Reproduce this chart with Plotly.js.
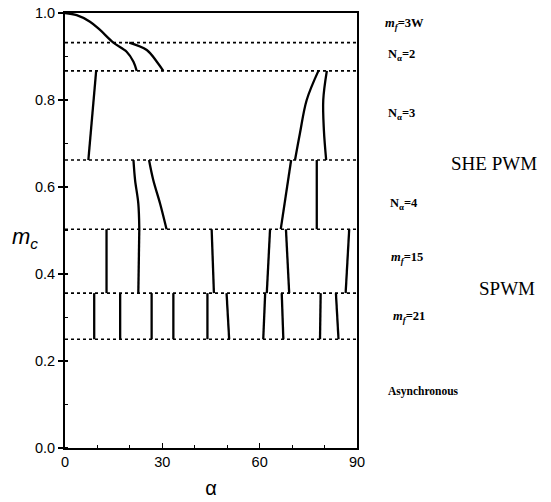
<!DOCTYPE html>
<html>
<head>
<meta charset="utf-8">
<script src="https://cdn.plot.ly/plotly-3.0.1.min.js"></script>
<style>html,body{margin:0;padding:0;background:#fff;}#chart{width:551px;height:502px;}</style>
</head>
<body>
<div id="chart"></div>
<script>
// Boundary levels of m_c (dotted lines)
const levels = [0.932, 0.867, 0.662, 0.503, 0.356, 0.25];

// mf=3W region curves
const curveA_alpha = [0, 3.6, 7.7, 10.8, 14.9, 19.0, 21.1, 22.1];
const curveA_mc    = [1.0, 0.995, 0.98, 0.961, 0.932, 0.911, 0.888, 0.867];
const curveB_alpha = [19.8, 25.2, 28.3, 30.3];
const curveB_mc    = [0.932, 0.915, 0.888, 0.867];

// N=3 region
const na3L_alpha  = [9.6, 7.2];
const na3L_mc     = [0.867, 0.662];
const na3R1_alpha = [78.1, 74.5, 72.4, 70.9];
const na3R1_mc    = [0.867, 0.80, 0.723, 0.662];
const na3R2_alpha = [80.7, 79.6, 79.8, 80.5];
const na3R2_mc    = [0.867, 0.80, 0.73, 0.662];

// N=4 region
const na4L1_alpha = [21.1, 21.6, 22.6, 22.9];
const na4L1_mc    = [0.662, 0.616, 0.562, 0.503];
const na4L2_alpha = [25.9, 27.2, 29.3, 31.3];
const na4L2_mc    = [0.662, 0.616, 0.562, 0.503];
const na4R1_alpha = [69.7, 66.5];
const na4R1_mc    = [0.662, 0.503];
const na4R2_alpha = [77.6, 77.6];
const na4R2_mc    = [0.662, 0.503];

// mf=15 region: alpha at top (0.503) and bottom (0.356)
const mf15Top    = [12.8, 22.9, 45.2, 63.2, 68.1, 87.6];
const mf15Bottom = [12.8, 22.6, 45.9, 62.2, 69.1, 86.5];

// mf=21 region: alpha at top (0.356) and bottom (0.25)
const mf21Top    = [9.0, 17.0, 26.7, 33.4, 43.9, 49.8, 61.7, 66.8, 78.8, 83.5];
const mf21Bottom = [9.0, 17.0, 26.7, 33.4, 43.9, 50.6, 61.1, 67.3, 78.6, 84.3];

const lineStyle = {color: '#000', width: 2.3};
const traces = [];

// dotted level lines
const dx = [], dy = [];
levels.forEach(l => { dx.push(0, 90, null); dy.push(l, l, null); });
traces.push({x: dx, y: dy, mode: 'lines', line: {color: '#000', width: 1.6, dash: 'dot'}, hoverinfo: 'skip'});

[[curveA_alpha, curveA_mc], [curveB_alpha, curveB_mc], [na3L_alpha, na3L_mc],
 [na3R1_alpha, na3R1_mc], [na3R2_alpha, na3R2_mc], [na4L1_alpha, na4L1_mc],
 [na4L2_alpha, na4L2_mc], [na4R1_alpha, na4R1_mc], [na4R2_alpha, na4R2_mc]].forEach(([a, m]) => {
  traces.push({x: a, y: m, mode: 'lines', line: Object.assign({shape: 'spline'}, lineStyle), hoverinfo: 'skip'});
});

function segs(top, bottom, yTop, yBot) {
  const x = [], y = [];
  top.forEach((t, i) => { x.push(t, bottom[i], null); y.push(yTop, yBot, null); });
  return {x, y, mode: 'lines', line: lineStyle, hoverinfo: 'skip'};
}
traces.push(segs(mf15Top, mf15Bottom, levels[3], levels[4]));
traces.push(segs(mf21Top, mf21Bottom, levels[4], levels[5]));

const labFont = {family: 'Liberation Serif, Times New Roman, serif', size: 12.5, color: '#000'};
const bigFont = {family: 'Liberation Serif, Times New Roman, serif', size: 19, color: '#000'};
function pxX(px) { return (px - 65) / 292; }
function pxY(py) { return (448 - py) / 435; }
const annotations = [
  {text: '<b><i>m<sub>f</sub></i>=3W</b>', px: 383, py: 24, font: labFont},
  {text: '<b>N<sub>α</sub>=2</b>', px: 386, py: 55, font: labFont},
  {text: '<b>N<sub>α</sub>=3</b>', px: 386, py: 114, font: labFont},
  {text: 'SHE PWM', px: 449, py: 163, font: bigFont},
  {text: '<b>N<sub>α</sub>=4</b>', px: 388, py: 204, font: labFont},
  {text: '<b><i>m<sub>f</sub></i>=15</b>', px: 389, py: 258, font: labFont},
  {text: 'SPWM', px: 477, py: 288, font: bigFont},
  {text: '<b><i>m<sub>f</sub></i>=21</b>', px: 391, py: 317, font: labFont},
  {text: '<b>Asynchronous</b>', px: 386, py: 391, font: {family: 'Liberation Serif, serif', size: 11.5, color: '#000'}}
].map(a => ({text: a.text, xref: 'paper', yref: 'paper', x: pxX(a.px), y: pxY(a.py),
  xanchor: 'left', yanchor: 'middle', showarrow: false, font: a.font}));

// y-axis title as annotation
annotations.push({text: '<i>m<sub>c</sub></i>', xref: 'paper', yref: 'paper', x: pxX(25), y: pxY(238),
  xanchor: 'center', yanchor: 'middle', showarrow: false,
  font: {family: 'Liberation Sans, Arial, sans-serif', size: 22, color: '#000'}});

const tickFont = {family: 'Liberation Sans, Arial, sans-serif', size: 14.5, color: '#000'};
const layout = {
  width: 551, height: 502,
  margin: {l: 65, r: 194, t: 13, b: 54},
  paper_bgcolor: '#fff', plot_bgcolor: '#fff',
  showlegend: false,
  xaxis: {
    range: [0, 90], tickvals: [0, 30, 60, 90], ticktext: ['0', '30', '60', '90'],
    ticks: 'inside', ticklen: 5, tickwidth: 1.5, tickcolor: '#000',
    minor: {dtick: 10, ticks: 'inside', ticklen: 3, tickwidth: 1.2, tickcolor: '#000'},
    showgrid: false, zeroline: false, showline: true, mirror: true, linecolor: '#000', linewidth: 2,
    tickfont: tickFont,
    title: {text: 'α', font: {family: 'Liberation Sans, Arial, sans-serif', size: 20, color: '#000'}, standoff: 12}
  },
  yaxis: {
    range: [0, 1.0], tickvals: [0, 0.2, 0.4, 0.6, 0.8, 1.0],
    ticktext: ['0.0', '0.2', '0.4', '0.6', '0.8', '1.0'],
    ticks: 'outside', ticklen: 5, tickwidth: 1.5, tickcolor: '#000',
    minor: {dtick: 0.1, ticks: 'inside', ticklen: 3, tickwidth: 1.2, tickcolor: '#000'},
    showgrid: false, zeroline: false, showline: true, mirror: true, linecolor: '#000', linewidth: 2,
    tickfont: tickFont
  },
  annotations: annotations
};
Plotly.newPlot('chart', traces, layout, {staticPlot: true});
</script>
</body>
</html>
